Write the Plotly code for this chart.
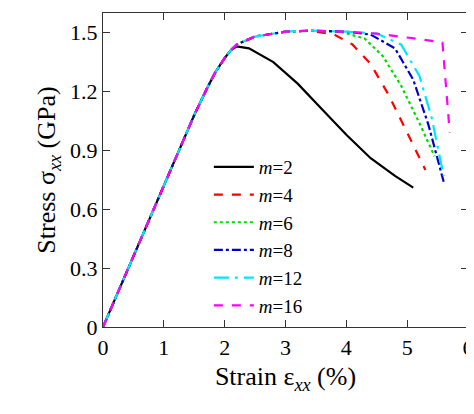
import plotly.graph_objects as go

# shared elastic/rising part
rise_x = [0, 0.5, 1.0, 1.5, 1.7, 1.85, 2.0]
rise_y = [0, 0.36, 0.72, 1.08, 1.21, 1.30, 1.37]

m2_x = rise_x + [2.1, 2.2, 2.4, 2.8, 3.2, 3.6, 4.0, 4.4, 4.8, 5.1]
m2_y = rise_y + [1.41, 1.43, 1.42, 1.35, 1.24, 1.11, 0.98, 0.86, 0.77, 0.71]

plat_x = [2.1, 2.2, 2.5, 3.0, 3.4]
plat_y = [1.41, 1.44, 1.48, 1.505, 1.51]

m4_x = rise_x + plat_x + [3.8, 4.1, 4.4, 4.7, 5.0, 5.3]
m4_y = rise_y + plat_y + [1.49, 1.44, 1.34, 1.18, 0.99, 0.80]

m6_x = rise_x + plat_x + [3.9, 4.3, 4.6, 4.9, 5.2, 5.45]
m6_y = rise_y + plat_y + [1.505, 1.47, 1.38, 1.23, 1.04, 0.87]

m8_x = rise_x + plat_x + [4.0, 4.4, 4.8, 5.1, 5.35, 5.6]
m8_y = rise_y + plat_y + [1.505, 1.49, 1.42, 1.26, 1.03, 0.74]

m12_x = rise_x + plat_x + [4.0, 4.5, 4.9, 5.2, 5.4, 5.6]
m12_y = rise_y + plat_y + [1.505, 1.495, 1.44, 1.28, 1.07, 0.77]

m16_x = rise_x + plat_x + [4.0, 4.5, 5.0, 5.58, 5.7]
m16_y = rise_y + plat_y + [1.505, 1.495, 1.475, 1.45, 0.99]

series = [
    ("2", m2_x, m2_y, "black", "solid"),
    ("4", m4_x, m4_y, "#ff0000", "dash"),
    ("6", m6_x, m6_y, "#00dd00", "dot"),
    ("8", m8_x, m8_y, "#0000cc", "dashdot"),
    ("12", m12_x, m12_y, "#00e5ff", "longdashdot"),
    ("16", m16_x, m16_y, "#ff00ff", "dash"),
]

fig = go.Figure()
for name, xs, ys, col, dash in series:
    fig.add_trace(go.Scatter(x=xs, y=ys, mode="lines", name="<i>m</i>=" + name,
                             line=dict(color=col, dash=dash, width=2.2)))

ax = dict(showline=True, mirror="ticks", linecolor="#333", linewidth=1.2,
          ticks="inside", ticklen=7, tickcolor="#333", showgrid=False, zeroline=False)
fig.update_layout(
    width=474, height=414, plot_bgcolor="white", paper_bgcolor="white",
    font=dict(family="Times New Roman, Liberation Serif, serif", size=22, color="black"),
    margin=dict(l=95, r=14, t=5, b=95),
    xaxis=dict(range=[0, 6], dtick=1,
               title=dict(text="Strain ε<sub><i>xx</i></sub> (%)", standoff=8), **ax),
    yaxis=dict(range=[0, 1.6], tickvals=[0, 0.3, 0.6, 0.9, 1.2, 1.5],
               ticktext=["0", "0.3", "0.6", "0.9", "1.2", "1.5"],
               title=dict(text="Stress σ<sub><i>xx</i></sub> (GPa)", standoff=6), **ax),
    legend=dict(x=0.29, y=0.57, xanchor="left", yanchor="top", bgcolor="rgba(0,0,0,0)",
                font=dict(size=19), tracegroupgap=0, itemwidth=40),
    showlegend=True,
)
fig.write_html("out.html")
